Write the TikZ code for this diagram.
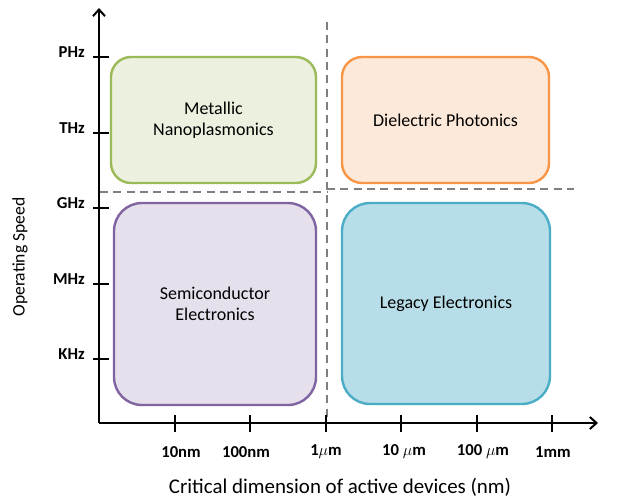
\documentclass[tikz,border=0pt]{standalone}
\usepackage{fontspec}
\setmainfont{Carlito}
\usetikzlibrary{positioning,arrows.meta}
\definecolor{greenline}{HTML}{9BBB59}
\definecolor{greenfill}{HTML}{EBF1DE}
\definecolor{orangeline}{HTML}{F79646}
\definecolor{orangefill}{HTML}{FDE9D9}
\definecolor{purpleline}{HTML}{8064A2}
\definecolor{purplefill}{HTML}{E5E0EC}
\definecolor{blueline}{HTML}{4BACC6}
\definecolor{bluefill}{HTML}{B7DEE8}
\definecolor{guide}{HTML}{7F7F7F}

\begin{document}
\begin{tikzpicture}[x=0.75pt,y=-0.75pt,
    region/.style={rounded corners=#1, line width=1.8pt, align=center, inner sep=0pt,
      font=\fontsize{13.5}{16}\selectfont},
    axis/.style={line width=1.5pt, -{Straight Barb[length=5pt,width=9pt]}},
    tick/.style={line width=1.5pt},
    ticklabel/.style={font=\fontsize{12.5}{14}\selectfont\bfseries, inner sep=0pt},
    axislabel/.style={font=\fontsize{15.7}{18}\selectfont, inner sep=0pt},
    guideline/.style={guide, line width=1.5pt, dash pattern=on 6pt off 4pt}]
    \useasboundingbox (0,0) rectangle (624,500);

    \coordinate (o) at (99,423);
    \coordinate (ytop) at (99,8);
    \coordinate (xend) at (598,423);

    \node[region=15pt, draw=greenline, fill=greenfill, minimum width=153.75pt, minimum height=94.5pt]
        (metal) at (213.5,120) {Metallic\\Nanoplasmonics};
    \node[region=15pt, draw=orangeline, fill=orangefill, minimum width=155.25pt, minimum height=94.5pt]
        (photon) at (445.5,120) {Dielectric Photonics};
    \node[region=21pt, draw=purpleline, fill=purplefill, minimum width=151.5pt, minimum height=151.5pt]
        (semi) at (215,304) {Semiconductor\\Electronics};
    \node[region=21pt, draw=blueline, fill=bluefill, minimum width=156pt, minimum height=150.75pt]
        (legacy) at (446,303.5) {Legacy Electronics};

    \coordinate (vtop) at (327,22);
    \coordinate (vbot) at (327,423);
    \draw[guideline] (vtop) -- (vbot);
    \draw[guideline] (100,192) -- (327,192);
    \draw[guideline] (327,189) -- (574,189);

    \draw[axis] (o) -- (ytop);
    \draw[axis] (o) -- (xend);

    \foreach \y/\name in {57/PHz, 133/THz, 208/GHz, 284/MHz, 359/KHz} {
        \draw[tick] (93,\y) -- (109,\y);
        \node[ticklabel, anchor=east] (y\name) at (85,\y-5) {\name};
    }

    \foreach \x in {174.5, 250, 325.5, 401, 476.5, 552}
        \draw[tick] (\x,415) -- (\x,432);
    \node[ticklabel] (x10nm) at (181,452) {10nm};
    \node[ticklabel] (x100nm) at (246,452) {100nm};
    \node[ticklabel] (x1um) at (326,452) {1$\mu$m};
    \node[ticklabel] (x10um) at (404,452) {10 $\mu$m};
    \node[ticklabel] (x100um) at (483,452) {100 $\mu$m};
    \node[ticklabel] (x1mm) at (553,452) {1mm};

    \node[axislabel] (xtitle) at (340,487) {Critical dimension of active devices (nm)};
    \node[axislabel, font=\fontsize{13.2}{16}\selectfont, rotate=90] (ytitle) at (20,257) {Operating Speed};
\end{tikzpicture}
\end{document}
